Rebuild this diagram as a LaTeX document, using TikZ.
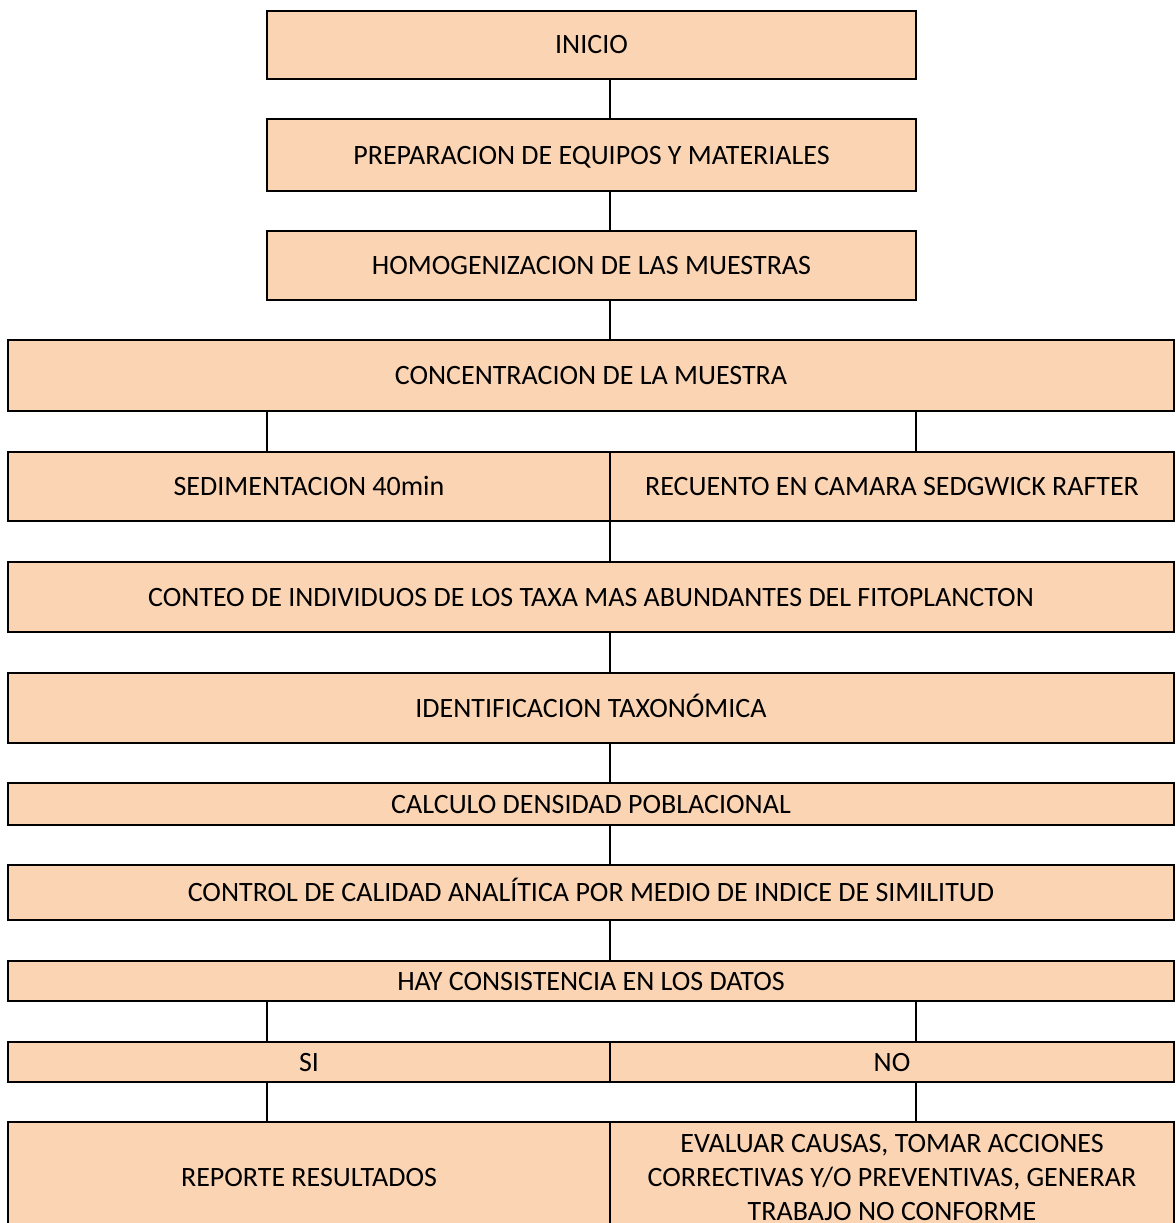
\documentclass[tikz,border=0pt]{standalone}
\usepackage{fontspec}
\setmainfont{Carlito}
\definecolor{boxfill}{HTML}{FBD4B4}
\begin{document}
\begin{tikzpicture}[x=1pt,y=-1pt,
  cellbase/.style={draw=black, line width=2.2pt, fill=boxfill, inner sep=0pt,
    font=\fontsize{28}{34}\selectfont, align=center},
  cell/.style={cellbase, text height=18pt, text depth=0pt},
  link/.style={line width=1.3pt, draw=black}]
\useasboundingbox (0,0) rectangle (1175,1223);

% columns used by the connectors
\coordinate (mid) at (610,0);
\coordinate (lft) at (267,0);
\coordinate (rgt) at (916,0);

% process steps
\node[cell, minimum width=649pt, minimum height=68pt] (inicio) at (591.5,45) {INICIO};
\node[cell, minimum width=649pt, minimum height=72pt] (prep) at (591.5,155) {PREPARACION DE EQUIPOS Y MATERIALES};
\node[cell, minimum width=649pt, minimum height=69pt] (homo) at (591.5,265.5) {HOMOGENIZACION DE LAS MUESTRAS};
\node[cell, minimum width=1166pt, minimum height=71pt] (conc) at (591,375.5) {CONCENTRACION DE LA MUESTRA};
\node[cell, minimum width=602pt, minimum height=69pt] (sed) at (309,486.5) {SEDIMENTACION 40min};
\node[cell, minimum width=564pt, minimum height=69pt] (rec) at (892,486.5) {RECUENTO EN CAMARA SEDGWICK RAFTER};
\node[cell, minimum width=1166pt, minimum height=70pt] (conteo) at (591,597) {CONTEO DE INDIVIDUOS DE LOS TAXA MAS ABUNDANTES DEL FITOPLANCTON};
\node[cell, minimum width=1166pt, minimum height=70pt] (ident) at (591,708) {IDENTIFICACION TAXONÓMICA};
\node[cell, minimum width=1166pt, minimum height=42pt] (calc) at (591,804) {CALCULO DENSIDAD POBLACIONAL};
\node[cell, minimum width=1166pt, minimum height=55pt] (control) at (591,892.5) {CONTROL DE CALIDAD ANALÍTICA POR MEDIO DE INDICE DE SIMILITUD};
\node[cell, minimum width=1166pt, minimum height=40pt] (hay) at (591,981) {HAY CONSISTENCIA EN LOS DATOS};
\node[cell, minimum width=602pt, minimum height=40pt] (si) at (309,1062) {SI};
\node[cell, minimum width=564pt, minimum height=40pt] (no) at (892,1062) {NO};
\node[cell, minimum width=602pt, minimum height=110pt] (rep) at (309,1177) {REPORTE RESULTADOS};
\node[cellbase, minimum width=564pt, minimum height=110pt] (eval) at (892,1177)
  {EVALUAR CAUSAS, TOMAR ACCIONES\\CORRECTIVAS Y/O PREVENTIVAS, GENERAR\\TRABAJO NO CONFORME};

% connectors
\draw[link] (inicio.south -| mid) -- (prep.north -| mid);
\draw[link] (prep.south -| mid) -- (homo.north -| mid);
\draw[link] (homo.south -| mid) -- (conc.north -| mid);
\draw[link] (conc.south -| lft) -- (sed.north -| lft);
\draw[link] (conc.south -| rgt) -- (rec.north -| rgt);
\draw[link] (rec.south -| mid) -- (conteo.north -| mid);
\draw[link] (conteo.south -| mid) -- (ident.north -| mid);
\draw[link] (ident.south -| mid) -- (calc.north -| mid);
\draw[link] (calc.south -| mid) -- (control.north -| mid);
\draw[link] (control.south -| mid) -- (hay.north -| mid);
\draw[link] (hay.south -| lft) -- (si.north -| lft);
\draw[link] (hay.south -| rgt) -- (no.north -| rgt);
\draw[link] (si.south -| lft) -- (rep.north -| lft);
\draw[link] (no.south -| rgt) -- (eval.north -| rgt);
\end{tikzpicture}
\end{document}
